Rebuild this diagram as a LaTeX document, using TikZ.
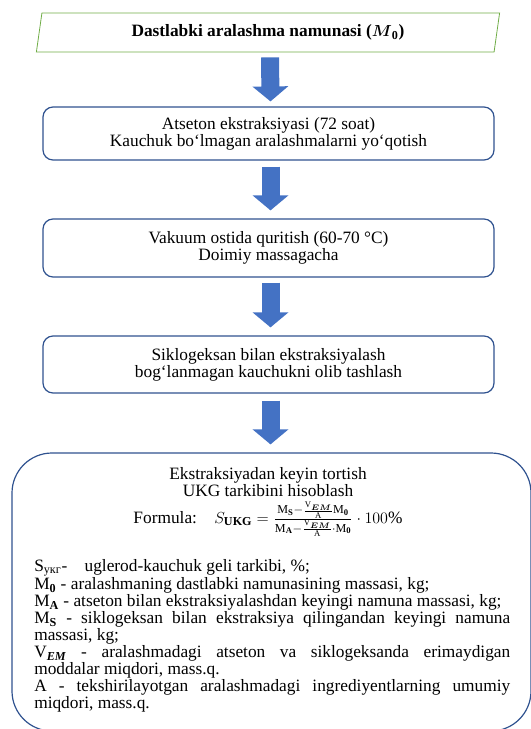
\documentclass[tikz,border=0pt]{standalone}
\usepackage{amsmath}
\usepackage{fontspec}
\setmainfont{Liberation Serif}
\usepackage{tikz}
\usetikzlibrary{shapes.geometric, arrows.meta}

\definecolor{stepblue}{HTML}{2F528F}
\definecolor{arrowblue}{HTML}{4472C4}
\definecolor{inputgreen}{HTML}{70AD47}

\tikzset{
  inputbox/.style={trapezium, trapezium left angle=78, trapezium right angle=102,
    trapezium stretches=true, draw=inputgreen, line width=0.6pt,
    minimum width=348pt, minimum height=29.25pt, inner sep=0pt},
  stepbox/.style={draw=stepblue, line width=0.9pt, rounded corners=7.5pt,
    minimum width=338.25pt, align=center, inner sep=0pt},
  flowarrow/.style={arrowblue, line width=13.5pt, -{Triangle[length=11.25pt, width=26.25pt]}},
}

\begin{document}
\begin{tikzpicture}[x=0.75pt, y=-0.75pt, font=\fontsize{13}{12.75}\selectfont]
    \useasboundingbox (0,0) rectangle (531,729);

    % Starting sample
    \node[inputbox] (sample) at (268,32.5) {\textbf{Dastlabki aralashma namunasi (}$\boldsymbol{M}_{\mathbf{0}}$\textbf{)}};

    % Processing steps
    \node[stepbox, minimum height=39.75pt] (acetone) at (268.5,133.5) {Atseton ekstraksiyasi (72 soat)\\Kauchuk bo‘lmagan aralashmalarni yo‘qotish};
    \node[stepbox, minimum height=43.5pt] (drying) at (268.5,248) {Vakuum ostida quritish (60-70 °C)\\Doimiy massagacha};
    \node[stepbox, minimum height=42.75pt] (hexane) at (268.5,364.5) {Siklogeksan bilan ekstraksiyalash\\bog‘lanmagan kauchukni olib tashlash};

    % Calculation box
    \node[stepbox, rounded corners=30pt, minimum width=389.25pt, minimum height=208.5pt] (calc) at (271.5,592) {};
    \node[anchor=north, align=center, inner sep=0pt] (calchead) at (268,467) {Ekstraksiyadan keyin tortish\\UKG tarkibini hisoblash\\[3pt]Formula:\quad $S_{\mathbf{UKG}} = \frac{\mathrm{M}_{\mathbf{S}} - \frac{\mathrm{V}_{\boldsymbol{EM}}}{\mathrm{A}}\mathrm{M}_{\mathbf{0}}}{\mathrm{M}_{\mathbf{A}} - \frac{\mathrm{V}_{\boldsymbol{EM}}}{\mathrm{A}}\cdot\mathrm{M}_{\mathbf{0}}}\cdot 100\%$};
    \node[anchor=north west, text width=357pt, align=justify, inner sep=0pt] (calcbody) at (34,559) {\setlength{\parindent}{0pt}\hyphenpenalty=10000%
      S\textsubscript{укг}-\quad uglerod-kauchuk geli tarkibi, \%;\par
      M\textsubscript{\textbf{0}} - aralashmaning dastlabki namunasining massasi, kg;\par
      \makebox[\hsize][l]{M\textsubscript{\textbf{A}} - atseton bilan ekstraksiyalashdan keyingi namuna massasi, kg;}\par
      M\textsubscript{\textbf{S}} - siklogeksan bilan ekstraksiya qilingandan keyingi namuna\linebreak massasi, kg;\par
      V\textsubscript{\textbf{\textit{EM}}} - aralashmadagi atseton va siklogeksanda erimaydigan\linebreak moddalar miqdori, mass.q.\par
      A - tekshirilayotgan aralashmadagi ingrediyentlarning umumiy\linebreak miqdori, mass.q.};

    % Arrows between steps
    \draw[flowarrow] ([xshift=1.5pt, yshift=-3.75pt]sample.south) -- ([xshift=1.5pt, yshift=3.75pt]acetone.north);
    \draw[flowarrow] ([xshift=1.5pt, yshift=-4.5pt]acetone.south) -- ([xshift=1.5pt, yshift=6pt]drying.north);
    \draw[flowarrow] ([xshift=1.5pt, yshift=-3.75pt]drying.south) -- ([xshift=1.5pt, yshift=6pt]hexane.north);
    \draw[flowarrow] ([xshift=1.5pt, yshift=-5.25pt]hexane.south) -- ([xshift=-0.75pt, yshift=6pt]calc.north);
\end{tikzpicture}
\end{document}
